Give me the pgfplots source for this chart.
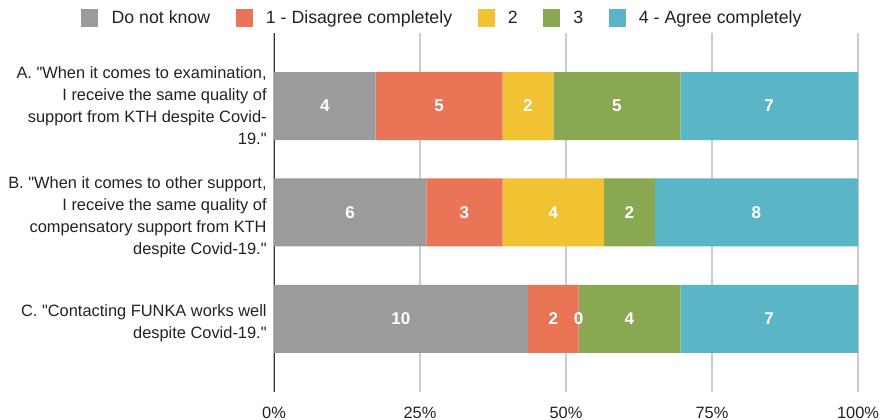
\documentclass[border=0pt]{standalone}
\usepackage{fontspec}
\setmainfont{Liberation Sans}[Ligatures=TeXOff]
\usepackage{pgfplots}
\pgfplotsset{compat=1.18}
\usepackage{pgfplotstable}
\definecolor{cDK}{HTML}{9B9B9B}
\definecolor{cA}{HTML}{E97456}
\definecolor{cB}{HTML}{F1C232}
\definecolor{cC}{HTML}{8AA852}
\definecolor{cD}{HTML}{5AB5C6}
\definecolor{cGrid}{HTML}{CCCCCC}
\definecolor{cAxis}{HTML}{333333}
\definecolor{cText}{HTML}{222222}
\pgfplotstableread{
y dk dkn d1 d1n d2 d2n d3 d3n d4 d4n
0 17.391 4 21.739 5 8.696 2 21.739 5 30.435 7
1 26.087 6 13.043 3 17.391 4 8.696 2 34.783 8
2 43.478 10 8.696 2 0 0 17.391 4 30.435 7
}\data
\begin{document}
\begin{tikzpicture}
\useasboundingbox (-205.5pt,-21pt) rectangle (455.25pt,294pt);
\begin{axis}[
  at={(0,0)}, anchor=south west,
  scale only axis, width=438pt, height=269.25pt,
  xbar stacked, bar width=51pt,
  xmin=0, xmax=100, ymin=-0.686, ymax=2.686, y dir=reverse,
  ytick={0,1.047,2.038},
  yticklabels={{A. "When it comes to examination,\\I receive the same quality of\\support from KTH despite Covid-\\19."},{B. "When it comes to other support,\\I receive the same quality of\\compensatory support from KTH\\despite Covid-19."},{C. "Contacting FUNKA works well\\despite Covid-19."}},
  yticklabel style={align=right, font=\fontsize{12.3}{16.5}\selectfont, text=cText, xshift=-2pt},
  xtick={0,25,50,75,100},
  xticklabel={\pgfmathprintnumber{\tick}\%},
  xticklabel style={font=\fontsize{12.3}{15}\selectfont, text=cText, yshift=-7.5pt},
  /pgf/number format/assume math mode=true,
  major tick length=0pt,
  xmajorgrids, grid style={cGrid, line width=0.8pt},
  axis line style={draw=none},
  nodes near coords, point meta=explicit symbolic,
  every node near coord/.append style={font=\fontsize{12.8}{15}\selectfont\bfseries, text=white},
  legend columns=5,
  legend style={draw=none, fill=none, at={(0.289,1.0418)}, anchor=center,
    font=\fontsize{13.3}{15}\selectfont, text=cText,
    /tikz/every odd column/.append style={column sep=8pt},
    /tikz/every even column/.append style={column sep=17pt}},
  legend image code/.code={\fill[#1] (0pt,-6.4pt) rectangle (12.75pt,6.4pt);},
]
\addplot[fill=cDK, draw=none] table[x=dk, y=y, meta=dkn] {\data};
\addplot[fill=cA, draw=none] table[x=d1, y=y, meta=d1n] {\data};
\addplot[fill=cB, draw=none] table[x=d2, y=y, meta=d2n] {\data};
\addplot[fill=cC, draw=none] table[x=d3, y=y, meta=d3n] {\data};
\addplot[fill=cD, draw=none] table[x=d4, y=y, meta=d4n] {\data};
\legend{Do not know, 1 - Disagree completely, 2, 3, 4 - Agree completely}
\draw[cAxis, line width=1pt] (rel axis cs:0,0) -- (rel axis cs:0,1);
\end{axis}
\begin{axis}[
  at={(0,0)}, anchor=south west,
  scale only axis, width=438pt, height=269.25pt,
  xmin=0, xmax=100, ymin=-0.686, ymax=2.686, y dir=reverse,
  hide axis, clip=false,
  nodes near coords, point meta=explicit symbolic,
  nodes near coords align={center},
  every node near coord/.append style={font=\fontsize{12.8}{15}\selectfont\bfseries, text=white},
]
\addplot[only marks, mark=none] coordinates {(52.174,2) [0]};
\end{axis}
\end{tikzpicture}
\end{document}
